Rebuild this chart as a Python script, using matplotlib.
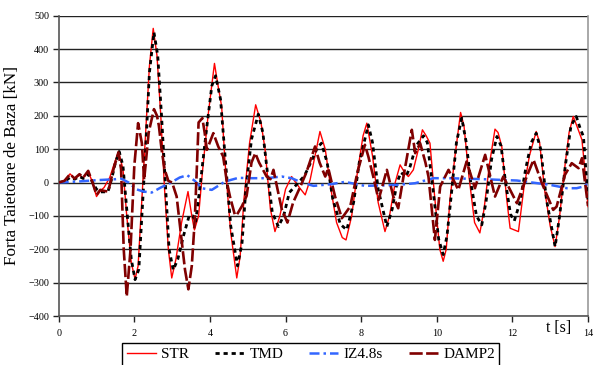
import matplotlib
matplotlib.use("Agg")
import matplotlib.pyplot as plt

plt.rcParams['font.family'] = ['Liberation Serif', 'DejaVu Serif']

# ---- data ----
str_t = [0, 0.15, 0.3, 0.42, 0.55, 0.65, 0.78, 0.88, 1.0, 1.1, 1.2, 1.35, 1.45, 1.58, 1.7, 1.8, 1.92, 2.02,
         2.1, 2.2, 2.3, 2.4, 2.5, 2.6, 2.7, 2.8, 2.9, 2.99, 3.1, 3.25, 3.42, 3.52, 3.59, 3.7, 3.8, 3.95,
         4.12, 4.2, 4.31, 4.4, 4.55, 4.71, 4.8, 4.9, 5.05, 5.21, 5.35, 5.46, 5.6, 5.72, 5.85, 6.0, 6.16,
         6.25, 6.38, 6.52, 6.65, 6.78, 6.91, 7.05, 7.2, 7.35, 7.5, 7.6, 7.75, 7.9, 8.05, 8.15, 8.3, 8.45,
         8.63, 8.75, 8.9, 9.03, 9.16, 9.25, 9.38, 9.51, 9.62, 9.72, 9.82, 9.95, 10.08, 10.17, 10.25, 10.35,
         10.48, 10.63, 10.72, 10.85, 11.0, 11.14, 11.25, 11.4, 11.54, 11.62, 11.72, 11.85, 11.94, 12.16,
         12.3, 12.45, 12.63, 12.72, 12.85, 13.0, 13.13, 13.25, 13.4, 13.5, 13.61, 13.72, 13.84, 13.95, 14.0]
str_v = [0, 5, 26, 12, 22, 14, 33, 5, -42, -25, -15, 15, 50, 93, 40, -100, -240, -290,
         -250, -50, 150, 350, 462, 380, 200, -20, -200, -286, -230, -120, -27, -100, -142, -100, 30, 200,
         357, 300, 228, 60, -150, -286, -220, -50, 120, 233, 180, 98, -80, -147, -100, -20, 18,
         3, -17, -37, 8, 80, 153, 100, -20, -120, -165, -172, -100, 30, 140, 178, 80, -60,
         -147, -100, 0, 53, 28, 18, 38, 98, 158, 140, 118, -50, -200, -236, -200, -50,
         78, 210, 170, 20, -120, -151, -80, 60, 160, 150, 108, -50, -137, -147,
         -20, 80, 153, 120, -20, -130, -192, -100, 60, 150, 198, 165, 128, 0, -72]

tmd_t = [0, 0.15, 0.3, 0.42, 0.55, 0.65, 0.78, 0.9, 1.0, 1.1, 1.3, 1.4, 1.5, 1.6, 1.7, 1.8, 1.92, 2.02,
         2.12, 2.2, 2.3, 2.4, 2.52, 2.62, 2.72, 2.82, 2.92, 3.03, 3.15, 3.3, 3.45, 3.55, 3.62, 3.75, 3.9,
         4.05, 4.15, 4.28, 4.4, 4.55, 4.73, 4.85, 4.95, 5.1, 5.28, 5.4, 5.52, 5.65, 5.81, 5.95, 6.1, 6.34,
         6.5, 6.74, 6.83, 6.95, 7.1, 7.25, 7.45, 7.62, 7.8, 7.95, 8.19, 8.3, 8.45, 8.68, 8.82, 8.95, 9.05,
         9.19, 9.3, 9.45, 9.65, 9.75, 9.9, 10.05, 10.17, 10.27, 10.4, 10.52, 10.66, 10.78, 10.9, 11.05,
         11.19, 11.3, 11.45, 11.59, 11.7, 11.82, 11.95, 12.05, 12.2, 12.35, 12.5, 12.63, 12.75, 12.9,
         13.13, 13.25, 13.4, 13.55, 13.69, 13.8, 13.88, 14.0]
tmd_v = [0, 3, 15, 10, 18, 12, 25, 0, -20, -28, -28, 10, 60, 93, 50, -80, -230, -291,
         -260, -100, 100, 330, 450, 380, 200, 0, -200, -262, -230, -160, -100, -100, -120, 0, 150,
         290, 320, 250, 80, -130, -250, -180, -20, 130, 205, 150, 30, -90, -132, -100, -30, 0,
         20, 78, 103, 118, 60, -50, -125, -142, -60, 60, 173, 120, -20, -132, -80, 0, 30,
         18, 50, 110, 140, 120, -20, -170, -216, -160, -20, 120, 193, 120, 0, -100,
         -127, -60, 70, 138, 110, 0, -95, -115, -60, 40, 120, 148, 100, -50,
         -192, -100, 50, 170, 198, 160, 138, -52]

iz_t = [0, 0.5, 1.0, 1.5, 1.65, 1.85, 2.05, 2.24, 2.46, 2.7, 2.94, 3.2, 3.4, 3.6, 3.78, 4.05, 4.4,
        4.75, 5.1, 5.5, 5.9, 6.16, 6.43, 6.74, 7.2, 7.57, 8.1, 8.98, 9.43, 9.91, 10.31, 11.23, 12.12,
        13.0, 13.44, 13.7, 13.88, 14.0]
iz_v = [0, 3, 7, 10, 12, 0, -20, -27, -30, -15, -2, 15, 22, 5, -17, -22, 3,
        14, 13, 13, 18, 13, 0, -10, -5, 2, -10, -7, -2, 13, 13, 10, 6,
        -7, -17, -17, -12, -3]

damp_t = [0, 0.15, 0.3, 0.42, 0.55, 0.65, 0.78, 0.88, 1.0, 1.1, 1.2, 1.31, 1.45, 1.58, 1.65, 1.72, 1.8,
          1.9, 2.0, 2.1, 2.2, 2.26, 2.38, 2.52, 2.6, 2.65, 2.72, 2.8, 2.9, 3.0, 3.12, 3.21, 3.34, 3.43,
          3.52, 3.6, 3.66, 3.7, 3.8, 3.86, 3.92, 4.09, 4.22, 4.35, 4.45, 4.53, 4.66, 4.71, 4.85, 4.97,
          5.1, 5.2, 5.3, 5.5, 5.6, 5.68, 5.75, 5.9, 6.05, 6.2, 6.4, 6.55, 6.78, 6.9, 7.05, 7.13, 7.31,
          7.49, 7.71, 7.9, 8.1, 8.19, 8.32, 8.46, 8.68, 8.85, 8.98, 9.12, 9.34, 9.43, 9.56, 9.7, 9.78,
          9.95, 10.09, 10.31, 10.44, 10.57, 10.79, 11.01, 11.28, 11.54, 11.76, 12.12, 12.38, 12.56,
          12.78, 13.08, 13.17, 13.39, 13.57, 13.75, 13.84, 14.0]
damp_v = [0, 5, 25, 12, 25, 15, 35, 5, -37, -22, -25, -27, 40, 90, 40, -200, -341,
          -200, 50, 178, 118, 8, 150, 220, 200, 170, 100, 40, 5, 0, -42, -132, -261, -320,
          -250, -110, 60, 180, 193, 150, 98, 148, 108, 78, 0, -42, -97, -97, -70, -40,
          60, 88, 60, 18, 10, 38, 0, -80, -120, -60, -10, 30, 108, 60, 18, 43, -42,
          -107, -72, 30, 113, 78, 18, -52, 38, -42, -77, 18, 158, 88, 118, 60, 18,
          -172, -12, 38, 8, -22, 63, -17, 83, -42, 18, -62, 18, 68,
          -2, -82, -72, 23, 58, 43, 73, -70]

series_labels = ["STR", "TMD", "IZ4.8s", "DAMP2"]
x_ticks = [0, 2, 4, 6, 8, 10, 12, 14]
y_ticks = [-400, -300, -200, -100, 0, 100, 200, 300, 400, 500]

# ---- figure ----
fig = plt.figure(figsize=(5.94, 3.65), dpi=100)
ax = fig.add_axes([58.7 / 594, 1 - 316 / 365, (588 - 58.7) / 594, (316 - 15.7) / 365])

for yv in y_ticks:
    ax.axhline(yv, color='#222222', lw=1.0, zorder=1)

ax.plot(str_t, str_v, color='#ff0000', lw=1.0, label=series_labels[0], zorder=3)
ax.plot(tmd_t, tmd_v, color='black', lw=2.0, linestyle=(0, (1.5, 1.4)), label=series_labels[1], zorder=4)
ax.plot(iz_t, iz_v, color='#3366ff', lw=1.8, linestyle=(0, (4, 1.6, 1, 1.6)), label=series_labels[2], zorder=4)
ax.plot(damp_t, damp_v, color='#800000', lw=1.9, linestyle=(0, (5, 1.3)), label=series_labels[3], zorder=5)

ax.set_xlim(0, 14)
ax.set_ylim(-400, 500)
ax.set_xticks(x_ticks)
ax.set_yticks(y_ticks)
ax.tick_params(axis='both', labelsize=7.3, direction='out', length=4, width=1, color='#222222', pad=3)
ax.tick_params(axis='x', pad=5)

for s in ['left', 'bottom']:
    ax.spines[s].set_color('#555555')
    ax.spines[s].set_linewidth(1.2)
ax.spines['top'].set_visible(False)
ax.spines['right'].set_color('#999999')
ax.spines['right'].set_linewidth(1.2)

ax.set_ylabel("Forta Taietoare de Baza [kN]", fontsize=12.3, labelpad=6)
fig.text(559 / 594, 1 - 328 / 365, "t [s]", fontsize=11.5, ha='center', va='center')

leg = ax.legend(loc='upper left', bbox_to_anchor=(122 / 594, 1 - 343 / 365),
                bbox_transform=fig.transFigure, ncol=4, fontsize=11,
                frameon=True, fancybox=False, edgecolor='black', framealpha=1,
                handlelength=1.9, handletextpad=0.35, columnspacing=1.7,
                borderpad=0.3, borderaxespad=0)
leg.get_frame().set_linewidth(1.0)

fig.savefig("out.png", dpi=100)
